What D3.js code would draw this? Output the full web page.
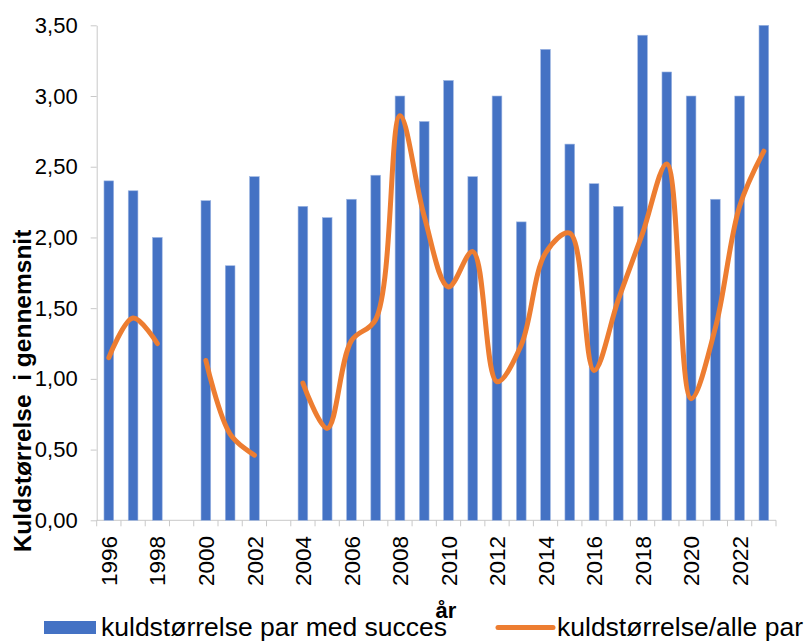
<!DOCTYPE html>
<html>
<head>
<meta charset="utf-8">
<script src="https://cdn.jsdelivr.net/npm/d3@7"></script>
<style>
  body { margin: 0; background: #fff; }
  text { font-family: "Liberation Sans", Arial, sans-serif; }
</style>
</head>
<body>
<div id="chart"></div>
<script>
// years on the x axis
const years = d3.range(1996, 2024).map(String);
// kuldstørrelse par med succes (bars); null = no data
const succesValues = [2.40, 2.33, 2.00, null, 2.26, 1.80, 2.43, null, 2.22, 2.14, 2.27, 2.44, 3.00, 2.82,
                      3.11, 2.43, 3.00, 2.11, 3.33, 2.66, 2.38, 2.22, 3.43, 3.17, 3.00, 2.27, 3.00, 3.50];
// kuldstørrelse/alle par (line)
const alleValues = [1.15, 1.43, 1.25, null, 1.13, 0.61, 0.46, null, 0.97, 0.65, 1.27, 1.42, 2.86, 2.15,
                    1.65, 1.90, 0.98, 1.24, 1.89, 2.03, 1.06, 1.56, 2.03, 2.52, 0.86, 1.36, 2.22, 2.61];
const yTicks = [0, 0.5, 1, 1.5, 2, 2.5, 3, 3.5];
const labelYears = years.filter(d => +d % 2 === 0);

const width = 807, height = 641;
const plotLeft = 96.7, plotRight = 776, plotTop = 25.3, plotBottom = 520.3;
const axisColor = "#c9c9c9";

const svg = d3.select("#chart").append("svg")
    .attr("width", width)
    .attr("height", height);

const x = d3.scaleBand()
    .domain(years)
    .range([plotLeft, plotRight])
    .paddingInner(0.6)
    .paddingOuter(0.3);

const y = d3.scaleLinear()
    .domain([0, 3.5])
    .range([plotBottom, plotTop]);

// y axis
const yAxis = svg.append("g")
    .attr("transform", `translate(${plotLeft},0)`)
    .call(d3.axisLeft(y).tickValues(yTicks).tickSize(6).tickSizeOuter(0).tickPadding(13)
      .tickFormat(d => d.toFixed(2).replace(".", ",")));
yAxis.select(".domain").attr("stroke", axisColor);
yAxis.selectAll(".tick line").attr("stroke", axisColor);
yAxis.selectAll(".tick text")
    .attr("fill", "#000")
    .style("font-size", "22px")
    .style("font-family", "Liberation Sans, Arial, sans-serif");

// x axis line + ticks between categories
const step = x.step();
svg.append("line")
    .attr("x1", plotLeft).attr("x2", plotRight)
    .attr("y1", plotBottom).attr("y2", plotBottom)
    .attr("stroke", axisColor);
svg.append("g").selectAll("line")
    .data(d3.range(years.length + 1))
    .join("line")
      .attr("x1", i => plotLeft + i * step)
      .attr("x2", i => plotLeft + i * step)
      .attr("y1", plotBottom)
      .attr("y2", plotBottom + 6)
      .attr("stroke", axisColor);

// bars
svg.append("g").selectAll("rect")
    .data(years.map((yr, i) => ({ yr, v: succesValues[i] })).filter(d => d.v != null))
    .join("rect")
      .attr("x", d => x(d.yr))
      .attr("y", d => y(d.v))
      .attr("width", x.bandwidth())
      .attr("height", d => y(0) - y(d.v))
      .attr("fill", "#4472C4")
      .attr("stroke", "#9fb7e3")
      .attr("stroke-width", 0.6);

// smoothed line, broken at missing years
const line = d3.line()
    .defined(d => d.v != null)
    .x(d => x(d.yr) + x.bandwidth() / 2)
    .y(d => y(d.v))
    .curve(d3.curveCatmullRom.alpha(0.5));
svg.append("path")
    .datum(years.map((yr, i) => ({ yr, v: alleValues[i] })))
    .attr("d", line)
    .attr("fill", "none")
    .attr("stroke", "#ED7D31")
    .attr("stroke-width", 5)
    .attr("stroke-linecap", "round")
    .attr("stroke-linejoin", "round");

// year labels
svg.append("g").selectAll("text")
    .data(labelYears)
    .join("text")
      .attr("transform", d => `translate(${x(d) + x.bandwidth() / 2},536) rotate(-90)`)
      .attr("text-anchor", "end")
      .attr("dy", "0.36em")
      .style("font-size", "22.5px")
      .text(d => d);

// axis titles
svg.append("text")
    .attr("transform", "translate(31,391) rotate(-90)")
    .attr("text-anchor", "middle")
    .style("font-size", "24.5px")
    .style("font-weight", "bold")
    .style("white-space", "pre")
    .text("Kuldstørrelse  i gennemsnit");

// legend
svg.append("rect")
    .attr("x", 44).attr("y", 621)
    .attr("width", 52).attr("height", 13)
    .attr("fill", "#4472C4");
svg.append("text")
    .attr("x", 101).attr("y", 636)
    .style("font-size", "26.5px")
    .text("kuldstørrelse par med succes");
svg.append("line")
    .attr("x1", 498).attr("x2", 553)
    .attr("y1", 627.5).attr("y2", 627.5)
    .attr("stroke", "#ED7D31")
    .attr("stroke-width", 5)
    .attr("stroke-linecap", "round");
svg.append("text")
    .attr("x", 557).attr("y", 636)
    .style("font-size", "26.5px")
    .text("kuldstørrelse/alle par");

svg.append("text")
    .attr("x", 446).attr("y", 618)
    .attr("text-anchor", "middle")
    .style("font-size", "22px")
    .style("font-weight", "bold")
    .text("år");
</script>
</body>
</html>
